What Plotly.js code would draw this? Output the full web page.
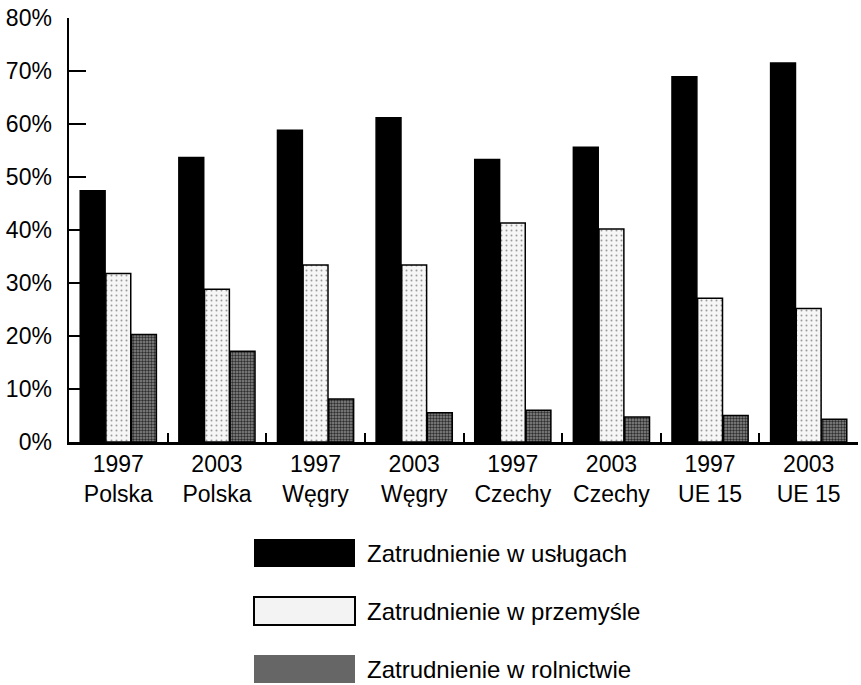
<!DOCTYPE html>
<html>
<head>
<meta charset="utf-8">
<script src="https://cdn.plot.ly/plotly-3.0.1.min.js"></script>
<style>html,body{margin:0;padding:0;background:#fff;}#chart{width:861px;height:685px;}</style>
</head>
<body>
<div id="chart"></div>
<script>
const categories = ["1997<br>Polska","2003<br>Polska","1997<br>Węgry","2003<br>Węgry","1997<br>Czechy","2003<br>Czechy","1997<br>UE 15","2003<br>UE 15"];
const seriesNames = ["Zatrudnienie w usługach","Zatrudnienie w przemyśle","Zatrudnienie w rolnictwie"];
const uslugi = [47.4, 53.7, 58.8, 61.2, 53.3, 55.6, 68.9, 71.5];
const przemysl = [31.8, 28.8, 33.4, 33.4, 41.3, 40.2, 27.1, 25.2];
const rolnictwo = [20.3, 17.1, 8.1, 5.5, 6.0, 4.7, 5.0, 4.3];
const yTicks = [0,10,20,30,40,50,60,70,80];

const font = "Liberation Sans, Arial, sans-serif";
const styles = [
  {color:"#000000", pattern:{shape:""}},
  {color:"#f6f6f6", pattern:{shape:".", fgcolor:"#9a9a9a", bgcolor:"#f6f6f6", size:5, solidity:0.12}},
  {color:"#6a6a6a", pattern:{shape:".", fgcolor:"#2e2e2e", bgcolor:"#8a8a8a", size:3, solidity:0.5}}
];
const swatchFill = ["#000000","#f3f3f3","#666666"];
const values = [uslugi, przemysl, rolnictwo];

const traces = values.map((v,i)=>({
  type:"bar", x:categories, y:v, name:seriesNames[i],
  marker:{color:styles[i].color, pattern:styles[i].pattern, line:{color:"#000", width:1.5}},
  showlegend:false, hoverinfo:"skip"
}));

const W=861, H=685, mL=69, mR=3, mT=18, mB=243;
const pw=W-mL-mR, ph=H-mT-mB;
const px=x=>(x-mL)/pw, py=y=>(H-mB-y)/ph;

const shapes=[], annotations=[];
seriesNames.forEach((n,i)=>{
  const cy=553+i*58;
  shapes.push({type:"rect", xref:"paper", yref:"paper", x0:px(254), x1:px(355), y0:py(cy+14), y1:py(cy-14),
    fillcolor:swatchFill[i], line:{color:"#000", width: i===1?2:0}});
  annotations.push({xref:"paper", yref:"paper", x:px(365), y:py(cy), xanchor:"left", yanchor:"middle",
    text:n, showarrow:false, font:{family:font, size:24, color:"#000"}});
});

const layout = {
  width:W, height:H,
  margin:{l:mL, r:mR, t:mT, b:mB, pad:0},
  paper_bgcolor:"#fff", plot_bgcolor:"#fff",
  barmode:"group", bargap:0.22, bargroupgap:0.03,
  font:{family:font, color:"#000"},
  xaxis:{type:"category", showline:true, linecolor:"#000", linewidth:2.5, ticks:"inside", tickson:"boundaries",
    ticklen:9, tickwidth:2, tickcolor:"#000", showgrid:false, zeroline:false,
    tickfont:{family:font, size:23, color:"#000"}},
  yaxis:{range:[0,80], tickvals:yTicks, ticktext:yTicks.map(t=>t+"%"), showline:true, linecolor:"#000", linewidth:2.5,
    ticks:"inside", ticklen:17, tickwidth:2, tickcolor:"#000", showgrid:false, zeroline:false,
    ticklabelstandoff:10, tickfont:{family:font, size:23, color:"#000"}},
  shapes:shapes, annotations:annotations
};

Plotly.newPlot("chart", traces, layout, {displayModeBar:false, staticPlot:true});
</script>
</body>
</html>
